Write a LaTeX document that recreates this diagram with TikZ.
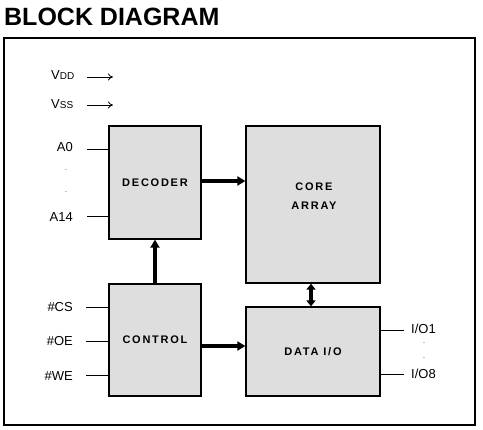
\documentclass[tikz,border=0pt]{standalone}
\usepackage{fontspec}
\setmainfont{Liberation Sans}
\usetikzlibrary{arrows.meta}
\definecolor{boxfill}{RGB}{222,222,222}
\begin{document}
\begin{tikzpicture}[x=1pt,y=-1pt,
  blk/.style={draw,line width=1.3pt,fill=boxfill},
  lbl/.style={font=\fontsize{13}{15}\selectfont,inner sep=0pt},
  btxt/.style={font=\fontsize{11}{14}\selectfont\bfseries\addfontfeature{LetterSpace=16},inner sep=0pt,align=center},
  pin/.style={line width=0.9pt},
  thick arrow/.style={line width=3.2pt,-{Triangle[length=8pt,width=9pt]}},
  dots/.style={font=\fontsize{7}{7}\selectfont,inner sep=0pt,anchor=base}]
\useasboundingbox (0,0) rectangle (483,430);
\node[anchor=base west,inner sep=0pt,font=\fontsize{25}{28}\selectfont\bfseries] (title) at (4,26) {BLOCK DIAGRAM};
\draw[line width=2pt] (4,38) rectangle (475,425);
% blocks
\node[blk,minimum width=92pt,minimum height=113pt] (dec) at (155,182.5) {};
\node[btxt] (dect) at (dec.center) {DECODER};
\node[blk,minimum width=134pt,minimum height=157pt] (core) at (313,204.5) {};
\node[btxt,align=center] (coret) at (314,196) {CORE\\[5pt]ARRAY};
\node[blk,minimum width=92pt,minimum height=112pt] (ctl) at (155,340) {};
\node[btxt] (ctlt) at (ctl.center) {CONTROL};
\node[blk,minimum width=134pt,minimum height=89pt] (dio) at (313,351.5) {};
\node[btxt] (diot) at (dio.center) {DATA I/O};
% power
\node[lbl,anchor=west] (vdd) at (51,75) {V{\fontsize{10}{10}\selectfont DD}};
\node[lbl,anchor=west] (vss) at (51,104) {V{\fontsize{10}{10}\selectfont SS}};
\coordinate (vdda) at (87,77); \coordinate (vddb) at (113,77);
\coordinate (vssa) at (87,105); \coordinate (vssb) at (113,105);
\draw[line width=0.8pt,-{To[length=5pt,width=7pt]}] (vdda) -- (vddb);
\draw[line width=0.8pt,-{To[length=5pt,width=7pt]}] (vssa) -- (vssb);
% address
\node[lbl,anchor=east] (a0) at (73,147) {A0};
\node[lbl,anchor=east] (a14) at (73,217) {A14};
\node[dots] (d1) at (66,171) {.};
\node[dots] (d2) at (66,193) {.};
\coordinate (a0s) at (87,149); \coordinate (a14s) at (87,216);
\draw[pin] (a0s) -- (a0s -| dec.west);
\draw[pin] (a14s) -- (a14s -| dec.west);
% control
\node[lbl,anchor=east] (cs) at (73,307) {\#CS};
\node[lbl,anchor=east] (oe) at (73,341) {\#OE};
\node[lbl,anchor=east] (we) at (73,376) {\#WE};
\coordinate (css) at (86,307); \coordinate (oes) at (86,341); \coordinate (wes) at (86,375);
\draw[pin] (css) -- (css -| ctl.west);
\draw[pin] (oes) -- (oes -| ctl.west);
\draw[pin] (wes) -- (wes -| ctl.west);
% io
\node[lbl,anchor=west] (io1) at (411,329) {I/O1};
\node[lbl,anchor=west] (io8) at (411,374) {I/O8};
\node[dots] (d3) at (424,344) {.};
\node[dots] (d4) at (424,359) {.};
\coordinate (io1s) at (404,330); \coordinate (io8s) at (404,374);
\draw[pin] (io1s -| dio.east) -- (io1s);
\draw[pin] (io8s -| dio.east) -- (io8s);
% arrows
\draw[thick arrow] (dec.east |- 0,181) -- (core.west |- 0,181);
\draw[thick arrow] (ctl.east |- 0,346) -- (dio.west |- 0,346);
\draw[thick arrow] (ctl.north) -- (dec.south);
\draw[line width=3.2pt,{Triangle[length=6pt,width=9pt]}-{Triangle[length=6pt,width=9pt]}] (core.south -| 311,0) -- (dio.north -| 311,0);
\end{tikzpicture}
\end{document}
